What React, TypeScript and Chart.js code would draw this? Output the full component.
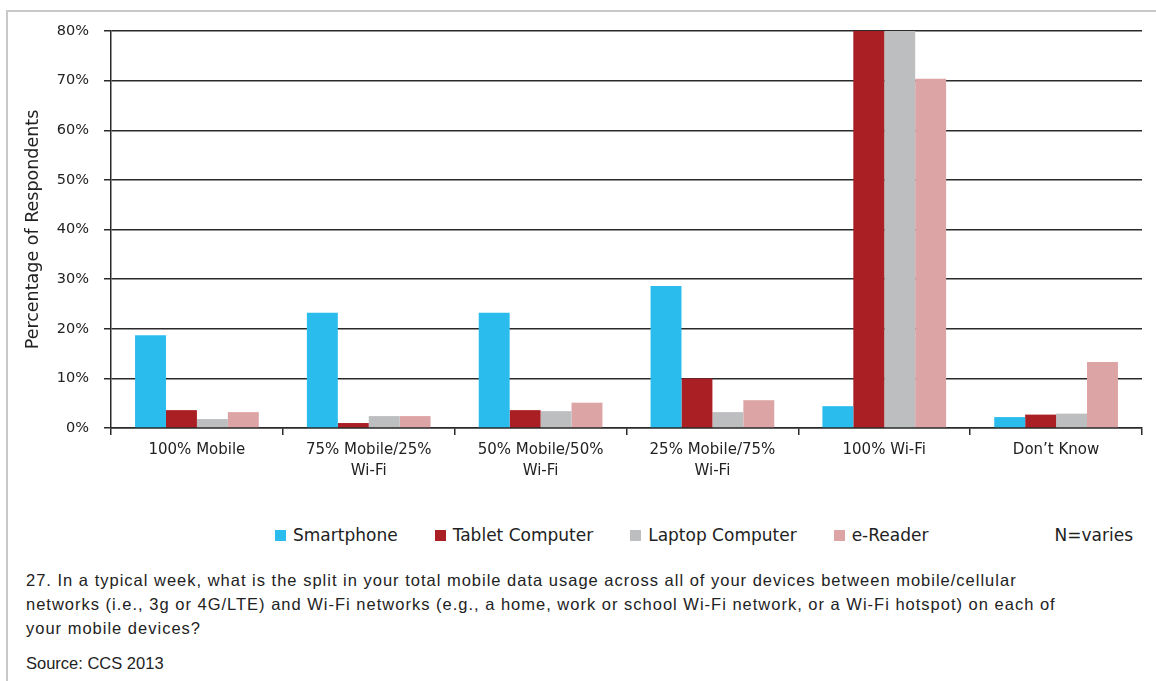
import React, { useEffect, useRef } from 'react';
import { Chart, registerables } from 'chart.js';

Chart.register(...registerables);

const categories: string[][] = [
  ['100% Mobile'],
  ['75% Mobile/25%', 'Wi-Fi'],
  ['50% Mobile/50%', 'Wi-Fi'],
  ['25% Mobile/75%', 'Wi-Fi'],
  ['100% Wi-Fi'],
  ['Don\u2019t Know'],
];
const seriesNames = ['Smartphone', 'Tablet Computer', 'Laptop Computer', 'e-Reader'];
const smartphone = [18.7, 23.2, 23.2, 28.6, 4.4, 2.2];
const tablet = [3.6, 1.0, 3.6, 10.0, 80, 2.7];
const laptop = [1.8, 2.4, 3.4, 3.2, 80, 2.9];
const eReader = [3.2, 2.4, 5.1, 5.6, 70.4, 13.3];
const seriesColors = ['#2bbcee', '#a91f24', '#bdbec0', '#dda4a6'];
const yMin = 0;
const yMax = 80;
const yStep = 10;
const yTitle = 'Percentage of Respondents';
const nNote = 'N=varies';
const questionLines = [
  '27. In a typical week, what is the split in your total mobile data usage across all of your devices between mobile/cellular',
  'networks (i.e., 3g or 4G/LTE) and Wi-Fi networks (e.g., a home, work or school Wi-Fi network, or a Wi-Fi hotspot) on each of',
  'your mobile devices?',
];
const sourceText = 'Source: CCS 2013';

const FONT = 'DejaVu Sans';
const TEXT = '#222222';
const LINE = '#2a2a2a';

export default function App() {
  const canvasRef = useRef<HTMLCanvasElement | null>(null);

  useEffect(() => {
    if (!canvasRef.current) return;
    const values = [smartphone, tablet, laptop, eReader];
    const chart = new Chart(canvasRef.current, {
      type: 'bar',
      data: {
        labels: categories,
        datasets: seriesNames.map((name, i) => ({
          label: name,
          data: values[i],
          backgroundColor: seriesColors[i],
          borderWidth: 0,
          categoryPercentage: 0.72,
          barPercentage: 1,
        })),
      },
      options: {
        responsive: false,
        animation: false,
        layout: { padding: { left: 0, right: 14, top: 31, bottom: 0 } },
        plugins: {
          legend: { display: false },
          tooltip: { enabled: false },
        },
        scales: {
          x: {
            grid: {
              display: true,
              drawOnChartArea: false,
              drawTicks: true,
              tickLength: 7,
              color: LINE,
              lineWidth: 1.5,
              offset: true,
            },
            border: { display: true, color: LINE, width: 1.5 },
            ticks: {
              color: TEXT,
              font: { family: FONT, size: 15, lineHeight: 1.4 },
              padding: 5,
              maxRotation: 0,
              autoSkip: false,
            },
            afterFit: (s: any) => {
              s.height = 72;
            },
          },
          y: {
            min: yMin,
            max: yMax,
            ticks: {
              stepSize: yStep,
              color: TEXT,
              font: { family: FONT, size: 14.5 },
              padding: 15,
              callback: (v: any) => v + '%',
            },
            grid: { color: LINE, lineWidth: 1.5, tickLength: 7 },
            border: { display: true, color: LINE, width: 1.5 },
            title: {
              display: true,
              text: yTitle,
              color: TEXT,
              font: { family: FONT, size: 17.5, lineHeight: 1.2 },
              padding: { top: 22.5, bottom: 0 },
            },
            afterFit: (s: any) => {
              s.width = 111;
            },
          },
        },
      },
    });
    return () => chart.destroy();
  }, []);

  return (
    <div
      style={{
        position: 'absolute',
        left: 0,
        top: 0,
        width: 1156,
        height: 681,
        background: '#fff',
        overflow: 'hidden',
        fontFamily: FONT,
        color: TEXT,
      }}
    >
      <div
        style={{
          position: 'absolute',
          left: 6,
          top: 10,
          right: -4,
          bottom: -4,
          borderLeft: '2px solid #c9c9c9',
          borderTop: '2px solid #c9c9c9',
        }}
      />
      <canvas
        ref={canvasRef}
        width={1156}
        height={500}
        style={{ position: 'absolute', left: 0, top: 0, width: 1156, height: 500 }}
      />
      <div
        style={{
          position: 'absolute',
          left: 275,
          top: 523,
          height: 24,
          display: 'flex',
          alignItems: 'center',
          gap: 37,
          fontSize: 17,
          whiteSpace: 'nowrap',
        }}
      >
        {seriesNames.map((name, i) => (
          <div key={name} style={{ display: 'flex', alignItems: 'center' }}>
            <span
              style={{
                display: 'inline-block',
                width: 11,
                height: 11,
                background: seriesColors[i],
                marginRight: 7,
              }}
            />
            <span>{name}</span>
          </div>
        ))}
      </div>
      <div
        style={{
          position: 'absolute',
          right: 23,
          top: 523,
          height: 24,
          lineHeight: '24px',
          fontSize: 17,
          whiteSpace: 'nowrap',
        }}
      >
        {nNote}
      </div>
      <div
        style={{
          position: 'absolute',
          left: 26,
          top: 568,
          fontFamily: 'Liberation Sans',
          fontSize: 16.5,
          letterSpacing: 1,
          lineHeight: '24px',
          whiteSpace: 'nowrap',
        }}
      >
        {questionLines.map((l, i) => (
          <div key={i}>{l}</div>
        ))}
      </div>
      <div
        style={{
          position: 'absolute',
          left: 26,
          top: 651,
          fontFamily: 'Liberation Sans',
          fontSize: 16.5,
          lineHeight: '24px',
          whiteSpace: 'nowrap',
        }}
      >
        {sourceText}
      </div>
    </div>
  );
}
